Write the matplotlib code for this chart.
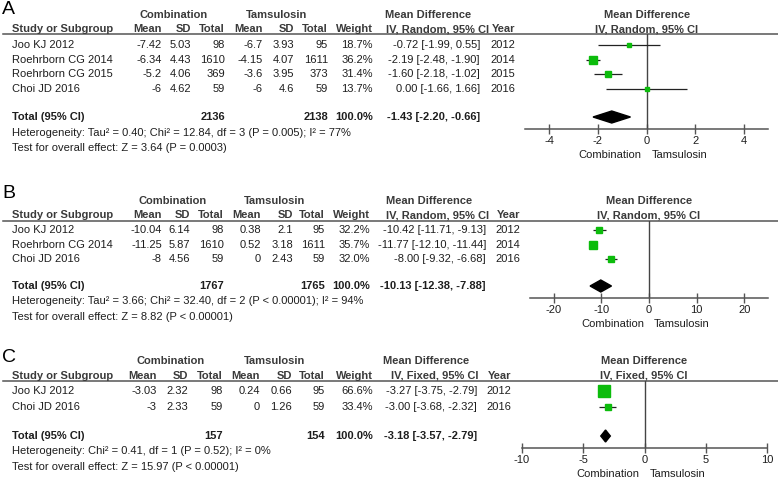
import matplotlib
matplotlib.use('Agg')
import matplotlib.pyplot as plt
import numpy as np

plt.rcParams['font.family'] = ['Liberation Sans', 'DejaVu Sans']

W, H = 778, 480
TXT = '#1e1e1e'
HDR = '#3a3a3a'
GREEN = '#0cbc0c'
FS = 8.0

# ---- panel A data ----
a_studies = ["Joo KJ 2012", "Roehrborn CG 2014", "Roehrborn CG 2015", "Choi JD 2016"]
a_comb_mean = [-7.42, -6.34, -5.2, -6]
a_comb_sd = [5.03, 4.43, 4.06, 4.62]
a_comb_n = [98, 1610, 369, 59]
a_tams_mean = [-6.7, -4.15, -3.6, -6]
a_tams_sd = [3.93, 4.07, 3.95, 4.6]
a_tams_n = [95, 1611, 373, 59]
a_weight = [18.7, 36.2, 31.4, 13.7]
a_md = [-0.72, -2.19, -1.60, 0.00]
a_lo = [-1.99, -2.48, -2.18, -1.66]
a_hi = [0.55, -1.90, -1.02, 1.66]
a_year = [2012, 2014, 2015, 2016]
a_total = [2136, 2138, -1.43, -2.20, -0.66]
a_het = "Heterogeneity: Tau\u00b2 = 0.40; Chi\u00b2 = 12.84, df = 3 (P = 0.005); I\u00b2 = 77%"
a_test = "Test for overall effect: Z = 3.64 (P = 0.0003)"
a_ticks = [-4, -2, 0, 2, 4]

# ---- panel B data ----
b_studies = ["Joo KJ 2012", "Roehrborn CG 2014", "Choi JD 2016"]
b_comb_mean = [-10.04, -11.25, -8]
b_comb_sd = [6.14, 5.87, 4.56]
b_comb_n = [98, 1610, 59]
b_tams_mean = [0.38, 0.52, 0]
b_tams_sd = [2.1, 3.18, 2.43]
b_tams_n = [95, 1611, 59]
b_weight = [32.2, 35.7, 32.0]
b_md = [-10.42, -11.77, -8.00]
b_lo = [-11.71, -12.10, -9.32]
b_hi = [-9.13, -11.44, -6.68]
b_year = [2012, 2014, 2016]
b_total = [1767, 1765, -10.13, -12.38, -7.88]
b_het = "Heterogeneity: Tau\u00b2 = 3.66; Chi\u00b2 = 32.40, df = 2 (P < 0.00001); I\u00b2 = 94%"
b_test = "Test for overall effect: Z = 8.82 (P < 0.00001)"
b_ticks = [-20, -10, 0, 10, 20]

# ---- panel C data ----
c_studies = ["Joo KJ 2012", "Choi JD 2016"]
c_comb_mean = [-3.03, -3]
c_comb_sd = [2.32, 2.33]
c_comb_n = [98, 59]
c_tams_mean = [0.24, 0]
c_tams_sd = [0.66, 1.26]
c_tams_n = [95, 59]
c_weight = [66.6, 33.4]
c_md = [-3.27, -3.00]
c_lo = [-3.75, -3.68]
c_hi = [-2.79, -2.32]
c_year = [2012, 2016]
c_total = [157, 154, -3.18, -3.57, -2.79]
c_het = "Heterogeneity: Chi\u00b2 = 0.41, df = 1 (P = 0.52); I\u00b2 = 0%"
c_test = "Test for overall effect: Z = 15.97 (P < 0.00001)"
c_ticks = [-10, -5, 0, 5, 10]

panels = [
    dict(letter="A", method="IV, Random, 95% CI", studies=a_studies, cm=a_comb_mean, cs=a_comb_sd,
         cn=a_comb_n, tm=a_tams_mean, ts=a_tams_sd, tn=a_tams_n, w=a_weight, md=a_md, lo=a_lo,
         hi=a_hi, year=a_year, total=a_total, het=a_het, test=a_test, ticks=a_ticks, lim=5),
    dict(letter="B", method="IV, Random, 95% CI", studies=b_studies, cm=b_comb_mean, cs=b_comb_sd,
         cn=b_comb_n, tm=b_tams_mean, ts=b_tams_sd, tn=b_tams_n, w=b_weight, md=b_md, lo=b_lo,
         hi=b_hi, year=b_year, total=b_total, het=b_het, test=b_test, ticks=b_ticks, lim=25),
    dict(letter="C", method="IV, Fixed, 95% CI", studies=c_studies, cm=c_comb_mean, cs=c_comb_sd,
         cn=c_comb_n, tm=c_tams_mean, ts=c_tams_sd, tn=c_tams_n, w=c_weight, md=c_md, lo=c_lo,
         hi=c_hi, year=c_year, total=c_total, het=c_het, test=c_test, ticks=c_ticks, lim=10),
]

# layout in pixels: letter y, header rows, rule, first row, total row, axis line,
# column right edges, forest x extent
layouts = [
    dict(ly=9, h1=15, h2=29, rule=34, row0=45, total=117, axis=129,
         cols=[162, 191, 225, 263, 294, 328, 373], ci=480, yr=515, comb=174, tams=277,
         mdh=428, ivh=438, fx=(525, 768), fh=647),
    dict(ly=194, h1=201, h2=215, rule=221, row0=230, total=286, axis=298,
         cols=[162, 190, 224, 261, 293, 325, 370], ci=486, yr=520, comb=173, tams=275,
         mdh=429, ivh=438, fx=(530, 768), fh=649),
    dict(ly=357, h1=361, h2=376, rule=381, row0=391, total=436, axis=448,
         cols=[157, 188, 223, 260, 292, 325, 373], ci=477, yr=511, comb=171, tams=275,
         mdh=426, ivh=435, fx=(522, 767), fh=644),
]
row_h = [14.7, 14.5, 16]

fig = plt.figure(figsize=(W / 100, H / 100), dpi=100)
bg = fig.add_axes([0, 0, 1, 1])
bg.set_xlim(0, W)
bg.set_ylim(H, 0)
bg.axis('off')


def put(x, y, s, ha='left', bold=False, color=TXT, size=FS):
    bg.text(x, y, s, ha=ha, va='center', fontsize=size, color=color,
            fontweight='bold' if bold else 'normal')


def g(v):
    return "%g" % v


for p, L, rh in zip(panels, layouts, row_h):
    put(2, L['ly'], p['letter'], size=14, color='black')
    # headers
    put(L['comb'], L['h1'], "Combination", ha='center', bold=True, color=HDR)
    put(L['tams'], L['h1'], "Tamsulosin", ha='center', bold=True, color=HDR)
    put(L['mdh'], L['h1'], "Mean Difference", ha='center', bold=True, color=HDR)
    put(L['fh'], L['h1'], "Mean Difference", ha='center', bold=True, color=HDR)
    put(12, L['h2'], "Study or Subgroup", bold=True, color=HDR)
    for x, s in zip(L['cols'], ["Mean", "SD", "Total", "Mean", "SD", "Total", "Weight"]):
        put(x, L['h2'], s, ha='right', bold=True, color=HDR)
    put(L['ivh'], L['h2'], p['method'], ha='center', bold=True, color=HDR)
    put(L['yr'], L['h2'], "Year", ha='right', bold=True, color=HDR)
    put(L['fh'], L['h2'], p['method'], ha='center', bold=True, color=HDR)
    bg.plot([3, W], [L['rule'], L['rule']], color='#555555', lw=1.1)

    # study rows
    ys = [L['row0'] + i * rh for i in range(len(p['studies']))]
    for i, y in enumerate(ys):
        put(12, y, p['studies'][i])
        vals = [g(p['cm'][i]), g(p['cs'][i]), str(p['cn'][i]), g(p['tm'][i]),
                g(p['ts'][i]), str(p['tn'][i]), "%.1f%%" % p['w'][i]]
        for x, s in zip(L['cols'], vals):
            put(x, y, s, ha='right')
        put(L['ci'], y, "%.2f [%.2f, %.2f]" % (p['md'][i], p['lo'][i], p['hi'][i]), ha='right')
        put(L['yr'], y, str(p['year'][i]), ha='right')

    # total row
    tot = p['total']
    put(12, L['total'], "Total (95% CI)", bold=True)
    put(L['cols'][2], L['total'], str(tot[0]), ha='right', bold=True)
    put(L['cols'][5], L['total'], str(tot[1]), ha='right', bold=True)
    put(L['cols'][6], L['total'], "100.0%", ha='right', bold=True)
    put(L['ci'], L['total'], "%.2f [%.2f, %.2f]" % (tot[2], tot[3], tot[4]), ha='right', bold=True)
    put(12, L['total'] + 15.5, p['het'])
    put(12, L['total'] + 31, p['test'])

    # forest plot
    x0, x1 = L['fx']
    ax = fig.add_axes([x0 / W, 1 - L['axis'] / H, (x1 - x0) / W, (L['axis'] - L['rule']) / H])
    ax.set_xlim(-p['lim'], p['lim'])
    ax.set_ylim(L['axis'], L['rule'])
    ax.patch.set_alpha(0)
    for s in ['top', 'left', 'right']:
        ax.spines[s].set_visible(False)
    ax.spines['bottom'].set_color('#555555')
    ax.spines['bottom'].set_linewidth(1.1)
    ax.set_yticks([])
    ax.set_xticks(p['ticks'])
    ax.set_xticklabels([str(t) for t in p['ticks']])
    ax.tick_params(axis='x', direction='inout', length=7, width=1, color='#555555',
                   labelsize=FS, labelcolor=TXT, pad=1.5)
    ax.axvline(0, color='#444444', lw=1)
    ax.hlines(ys, p['lo'], p['hi'], color='#222222', lw=0.9, zorder=2)
    for i, y in enumerate(ys):
        side = 0.5 * p['w'][i] ** 0.75
        ax.plot(p['md'][i], y, marker='s', ms=side * 0.72, color=GREEN, mec=GREEN,
                ls='none', zorder=3)
    dy = 6
    ax.fill([tot[3], tot[2], tot[4], tot[2]],
            [L['total'], L['total'] - dy, L['total'], L['total'] + dy],
            color='black', zorder=3, clip_on=False)
    ax.annotate("Combination", xy=(0, 0), xycoords=('data', 'axes fraction'),
                xytext=(-5, -26), textcoords='offset pixels', ha='right', va='center',
                fontsize=FS, color=TXT, annotation_clip=False)
    ax.annotate("Tamsulosin", xy=(0, 0), xycoords=('data', 'axes fraction'),
                xytext=(5, -26), textcoords='offset pixels', ha='left', va='center',
                fontsize=FS, color=TXT, annotation_clip=False)

fig.savefig("out.png", dpi=100)
